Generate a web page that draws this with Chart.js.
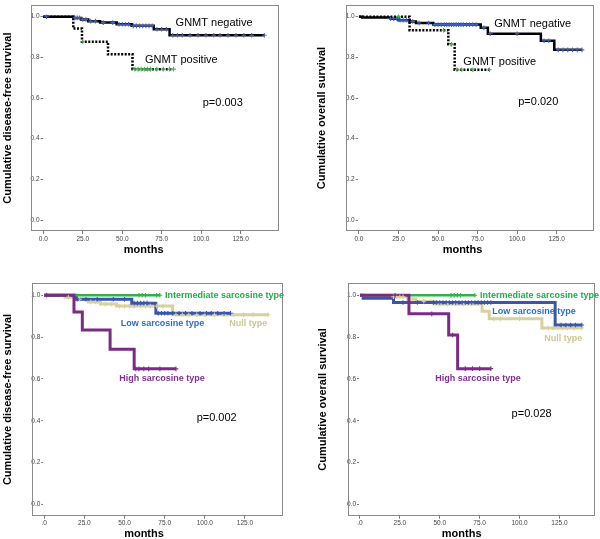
<!DOCTYPE html>
<html>
<head>
<meta charset="utf-8">
<title>GNMT / sarcosine type survival curves</title>
<script src="https://cdn.jsdelivr.net/npm/chart.js@4"></script>
<style>
  body { margin: 0; background: #fff; }
  #page { position: relative; width: 600px; height: 539px; background: #fff; }
  #page canvas { position: absolute; }
</style>
</head>
<body>
<div id="page">
  <canvas id="dfsGnmt" width="300" height="270" style="left:0;top:0"></canvas>
  <canvas id="osGnmt" width="300" height="270" style="left:300px;top:0"></canvas>
  <canvas id="dfsSarc" width="300" height="269" style="left:0;top:270px"></canvas>
  <canvas id="osSarc" width="300" height="269" style="left:300px;top:270px"></canvas>
</div>
<script>
/* DATA - months / cumulative survival */
const xTicks = [0, 25, 50, 75, 100, 125];
const xTickLabelsTop = ['0.0', '25.0', '50.0', '75.0', '100.0', '125.0'];
const xTickLabelsBottom = ['.0', '25.0', '50.0', '75.0', '100.0', '125.0'];
const yTicks = [0, 0.2, 0.4, 0.6, 0.8, 1.0];
const yTickLabels = ['0.0', '0.2', '0.4', '0.6', '0.8', '1.0'];

// GNMT, disease-free survival
const negDfsTime = [0, 19, 24, 28.5, 36, 46.5, 56, 70, 80, 140];
const negDfsSurv = [1, 0.994, 0.986, 0.978, 0.971, 0.963, 0.955, 0.938, 0.909, 0.909];
const negDfsCens = [2, 20, 21.5, 23, 25, 27, 30, 33, 38, 44, 48, 50, 52, 54, 57, 59, 61, 63, 65, 67, 69, 72, 75, 78, 82, 85, 88, 93, 98, 103, 108, 112, 117, 122, 127, 132, 140];
const posDfsTime = [0, 19, 24.5, 41, 56.5, 82.5];
const posDfsSurv = [1, 0.942, 0.877, 0.815, 0.742, 0.742];
const posDfsCens = [25, 58, 60, 62, 64, 66, 68, 72, 76, 80, 82.5];

// GNMT, overall survival
const negOsTime = [0, 2, 20, 25, 32, 36, 47, 77, 81.5, 115, 123.5, 141];
const negOsSurv = [1, 0.996, 0.99, 0.983, 0.976, 0.969, 0.961, 0.945, 0.916, 0.882, 0.837, 0.837];
const negOsCens = [20, 22, 24, 26, 28, 30, 34, 38, 44, 48, 50, 52, 54, 55.5, 57, 58.5, 60, 61.5, 63, 64.5, 66, 68, 70, 72, 74, 79, 83, 100, 117, 120, 126, 129, 132, 135, 138, 141];
const posOsTime = [0, 32, 56.5, 60.5, 82.5];
const posOsSurv = [1, 0.933, 0.864, 0.739, 0.739];
const posOsCens = [25, 53.5, 58.5, 62, 65, 72, 82.5];

// Sarcosine type, disease-free survival
const interDfsTime = [0, 72];
const interDfsSurv = [1, 1];
const interDfsCens = [59, 61, 63, 70, 72];
const highDfsTime = [0, 18.5, 23.7, 41, 56, 82];
const highDfsSurv = [1, 0.92, 0.834, 0.742, 0.648, 0.648];
const highDfsCens = [1.5, 57, 59, 62, 65, 72, 82];
const lowDfsTime = [0, 20, 54.5, 69.5, 116];
const lowDfsSurv = [1, 0.981, 0.962, 0.914, 0.914];
const lowDfsCens = [20.5, 26, 33, 43, 50, 56, 58, 60, 62, 64, 71, 73, 75, 77, 80, 84, 88, 92, 97, 101, 104, 108, 112, 116];
const nullDfsTime = [0, 13, 20, 27.5, 35, 45, 80, 139.5];
const nullDfsSurv = [1, 0.99, 0.981, 0.968, 0.958, 0.948, 0.907, 0.907];
const nullDfsCens = [15, 22, 29, 32, 38, 42, 47, 50, 53, 56, 60, 63, 66, 70, 74, 82, 86, 90, 95, 100, 106, 112, 118, 124, 130, 139.5];

// Sarcosine type, overall survival
const interOsTime = [0, 72];
const interOsSurv = [1, 1];
const interOsCens = [57, 59, 61, 63, 72];
const highOsTime = [0, 30.7, 55.6, 61.2, 82];
const highOsSurv = [1, 0.911, 0.81, 0.649, 0.649];
const highOsCens = [22, 45, 58, 66, 70.5, 75, 82];
const lowOsTime = [0, 2, 21, 122.3, 139];
const lowOsSurv = [1, 0.985, 0.965, 0.858, 0.858];
const lowOsCens = [27, 36, 46, 48, 50, 52, 54, 56, 58, 60, 62, 64, 66, 68, 70, 72, 74, 76, 78, 80, 82, 126, 129, 132, 135, 139];
const nullOsTime = [0, 20, 30, 35, 46.5, 76.5, 81, 114, 139];
const nullOsSurv = [1, 0.993, 0.982, 0.971, 0.958, 0.923, 0.887, 0.843, 0.843];
const nullOsCens = [21, 23, 25, 27, 33, 40, 50, 55, 60, 65, 70, 84, 88, 100, 118, 121, 124, 127, 130, 134, 139];

/*****************************************************************/

const FONT = "'Liberation Sans', Arial, sans-serif";
const BLACK = '#000000';
const NEG_MARK = '#4561b8';
const POS_MARK = '#3cb94a';
const GREEN = '#2db34a';
const BLUE = '#3a55ad';
const KHAKI = '#d6d19f';
const PURPLE = '#7b2b86';

// Kaplan-Meier step points
function steps(times, surv) {
    return times.map((t, i) => ({ x: t, y: surv[i] }));
}

// Censor marks sit on the curve at the censoring time
function censorPoints(times, surv, cens) {
    return cens.map(c => {
        let s = surv[0];
        for (let i = 0; i < times.length; i++) {
            if (times[i] <= c) s = surv[i];
        }
        return { x: c, y: s };
    });
}

function curve(label, times, surv, color, width, dash, order) {
    return {
        label: label,
        data: steps(times, surv),
        borderColor: color,
        borderWidth: width,
        borderDash: dash,
        stepped: 'before',
        pointRadius: 0,
        fill: false,
        order: order
    };
}

function marks(label, times, surv, cens, color) {
    return {
        label: label + ' censored',
        data: censorPoints(times, surv, cens),
        showLine: false,
        pointStyle: 'cross',
        pointRadius: 2.3,
        pointBorderWidth: 1.1,
        borderColor: color,
        backgroundColor: color,
        order: 0
    };
}

function note(text, x, y, color, font) {
    return { text: text, x: x, y: y, color: color, font: font };
}

const LABEL_TOP = '11px ' + FONT;
const LABEL_BOTTOM = 'bold 9px ' + FONT;

const panels = [
    {
        id: 'dfsGnmt', yTitle: 'Cumulative disease-free survival', xLabels: xTickLabelsTop,
        area: { left: 42.5, top: 3, right: 279, bottom: 231 }, frameLeft: 31,
        xMin: -0.5, xMax: 149.3, titlePad: 1.5, monthsAt: [143.7, 250],
        datasets: [
            marks('GNMT negative', negDfsTime, negDfsSurv, negDfsCens, NEG_MARK),
            marks('GNMT positive', posDfsTime, posDfsSurv, posDfsCens, POS_MARK),
            curve('GNMT negative', negDfsTime, negDfsSurv, BLACK, 2.5, [], 1),
            curve('GNMT positive', posDfsTime, posDfsSurv, BLACK, 2.5, [2, 1.5], 2)
        ],
        notes: [
            note('GNMT negative', 83.8, 0.971, BLACK, LABEL_TOP),
            note('GNMT positive', 64.4, 0.788, BLACK, LABEL_TOP),
            note('p=0.003', 101, 0.576, BLACK, LABEL_TOP)
        ]
    },
    {
        id: 'osGnmt', yTitle: 'Cumulative overall survival', xLabels: xTickLabelsTop,
        area: { left: 57.7, top: 3, right: 294, bottom: 231 }, frameLeft: 46,
        xMin: -0.8, xMax: 148.6, titlePad: 15, monthsAt: [162.5, 250],
        datasets: [
            marks('GNMT negative', negOsTime, negOsSurv, negOsCens, NEG_MARK),
            marks('GNMT positive', posOsTime, posOsSurv, posOsCens, POS_MARK),
            curve('GNMT negative', negOsTime, negOsSurv, BLACK, 2.5, [], 1),
            curve('GNMT positive', posOsTime, posOsSurv, BLACK, 2.5, [2, 1.5], 2)
        ],
        notes: [
            note('GNMT negative', 85.5, 0.963, BLACK, LABEL_TOP),
            note('GNMT positive', 66, 0.779, BLACK, LABEL_TOP),
            note('p=0.020', 100.7, 0.581, BLACK, LABEL_TOP)
        ]
    },
    {
        id: 'dfsSarc', yTitle: 'Cumulative disease-free survival', xLabels: xTickLabelsBottom,
        area: { left: 43.3, top: 13.3, right: 282.7, bottom: 245.7 }, frameLeft: 31.7,
        xMin: -0.6, xMax: 148.5, titlePad: 1, monthsAt: [144, 264],
        datasets: [
            marks('High sarcosine type', highDfsTime, highDfsSurv, highDfsCens, PURPLE),
            marks('Intermediate sarcosine type', interDfsTime, interDfsSurv, interDfsCens, GREEN),
            marks('Low sarcosine type', lowDfsTime, lowDfsSurv, lowDfsCens, BLUE),
            marks('Null type', nullDfsTime, nullDfsSurv, nullDfsCens, KHAKI),
            curve('High sarcosine type', highDfsTime, highDfsSurv, PURPLE, 3, [], 1),
            curve('Intermediate sarcosine type', interDfsTime, interDfsSurv, GREEN, 2.5, [], 2),
            curve('Low sarcosine type', lowDfsTime, lowDfsSurv, BLUE, 3, [], 3),
            curve('Null type', nullDfsTime, nullDfsSurv, KHAKI, 3, [], 4)
        ],
        notes: [
            note('Intermediate sarcosine type', 75.2, 1.0, '#1faf4b', LABEL_BOTTOM),
            note('Low sarcosine type', 47.6, 0.863, '#2e6ec8', LABEL_BOTTOM),
            note('Null type', 115.2, 0.863, '#cdc794', LABEL_BOTTOM),
            note('High sarcosine type', 46.7, 0.604, '#7e2f92', LABEL_BOTTOM),
            note('p=0.002', 94.9, 0.413, BLACK, LABEL_TOP)
        ]
    },
    {
        id: 'osSarc', yTitle: 'Cumulative overall survival', xLabels: xTickLabelsBottom,
        area: { left: 59, top: 13.3, right: 296.7, bottom: 245.7 }, frameLeft: 47.7,
        xMin: -0.6, xMax: 147.2, titlePad: 16, monthsAt: [161.7, 264],
        datasets: [
            marks('High sarcosine type', highOsTime, highOsSurv, highOsCens, PURPLE),
            marks('Intermediate sarcosine type', interOsTime, interOsSurv, interOsCens, GREEN),
            marks('Low sarcosine type', lowOsTime, lowOsSurv, lowOsCens, BLUE),
            marks('Null type', nullOsTime, nullOsSurv, nullOsCens, KHAKI),
            curve('High sarcosine type', highOsTime, highOsSurv, PURPLE, 3, [], 1),
            curve('Intermediate sarcosine type', interOsTime, interOsSurv, GREEN, 2.5, [], 2),
            curve('Low sarcosine type', lowOsTime, lowOsSurv, BLUE, 3, [], 3),
            curve('Null type', nullOsTime, nullOsSurv, KHAKI, 3, [], 4)
        ],
        notes: [
            note('Intermediate sarcosine type', 75.2, 1.0, '#1faf4b', LABEL_BOTTOM),
            note('Low sarcosine type', 82.9, 0.924, '#2e6ec8', LABEL_BOTTOM),
            note('Null type', 115.5, 0.794, '#cdc794', LABEL_BOTTOM),
            note('High sarcosine type', 47.1, 0.602, '#7e2f92', LABEL_BOTTOM),
            note('p=0.028', 95, 0.434, BLACK, LABEL_TOP)
        ]
    }
];

/*****************************************************************/

/* FRAME + TEXT PLUGIN */
const panelDecor = {
    id: 'panelDecor',
    beforeDatasetsDraw(chart, args, opts) {
        const a = chart.chartArea;
        const ctx = chart.ctx;
        const left = Math.round(opts.frameLeft) + 0.5;
        const top = Math.round(a.top) + 0.5;
        ctx.save();
        ctx.strokeStyle = '#8a8a8a';
        ctx.lineWidth = 1;
        ctx.strokeRect(left, top, Math.round(a.right) - 0.5 - left, Math.round(a.bottom) - 0.5 - top);
        ctx.restore();
    },
    afterDatasetsDraw(chart, args, opts) {
        const ctx = chart.ctx;
        const xs = chart.scales.x;
        const ys = chart.scales.y;
        ctx.save();
        ctx.textBaseline = 'middle';
        ctx.textAlign = 'left';
        opts.notes.forEach(n => {
            ctx.font = n.font;
            ctx.fillStyle = n.color;
            ctx.fillText(n.text, xs.getPixelForValue(n.x), ys.getPixelForValue(n.y));
        });
        // x axis title
        ctx.font = 'bold 11px ' + FONT;
        ctx.fillStyle = BLACK;
        ctx.textAlign = 'center';
        ctx.fillText('months', opts.monthsAt[0], opts.monthsAt[1]);
        ctx.restore();
    }
};

/* CHARTS */
panels.forEach(p => {
    const canvas = document.getElementById(p.id);
    const W = canvas.width;
    const H = canvas.height;
    const tickFont = { family: FONT, size: 6.5 };

    new Chart(canvas.getContext('2d'), {
        type: 'line',
        data: { datasets: p.datasets },
        options: {
            responsive: false,
            animation: false,
            events: [],
            layout: { padding: { left: 0, top: p.area.top, right: W - p.area.right, bottom: 0 } },
            scales: {
                x: {
                    type: 'linear',
                    min: p.xMin,
                    max: p.xMax,
                    grid: { drawOnChartArea: false, drawTicks: true, tickLength: 3, color: '#777' },
                    border: { display: false },
                    ticks: {
                        font: tickFont, color: '#444', padding: 1, autoSkip: false, maxRotation: 0,
                        callback: (value, index) => p.xLabels[index]
                    },
                    afterBuildTicks: scale => { scale.ticks = xTicks.map(v => ({ value: v })); },
                    afterFit: scale => {
                        scale.height = H - p.area.bottom;
                        scale.paddingLeft = 0;
                        scale.paddingRight = 0;
                    }
                },
                y: {
                    type: 'linear',
                    min: -0.054,
                    max: 1.057,
                    grid: { drawOnChartArea: false, drawTicks: true, tickLength: 2, color: '#777' },
                    border: { display: false },
                    ticks: {
                        font: tickFont, color: '#444', padding: 1,
                        callback: (value, index) => yTickLabels[index]
                    },
                    title: {
                        display: true,
                        text: p.yTitle,
                        color: BLACK,
                        font: { family: FONT, size: 11, weight: 'bold' },
                        padding: { top: p.titlePad, bottom: 0 }
                    },
                    afterBuildTicks: scale => { scale.ticks = yTicks.map(v => ({ value: v })); },
                    afterFit: scale => {
                        scale.width = p.area.left;
                        scale.paddingTop = 0;
                        scale.paddingBottom = 0;
                    }
                }
            },
            plugins: {
                legend: { display: false },
                tooltip: { enabled: false },
                panelDecor: { frameLeft: p.frameLeft, notes: p.notes, monthsAt: p.monthsAt }
            }
        },
        plugins: [panelDecor]
    });
});
</script>
</body>
</html>
